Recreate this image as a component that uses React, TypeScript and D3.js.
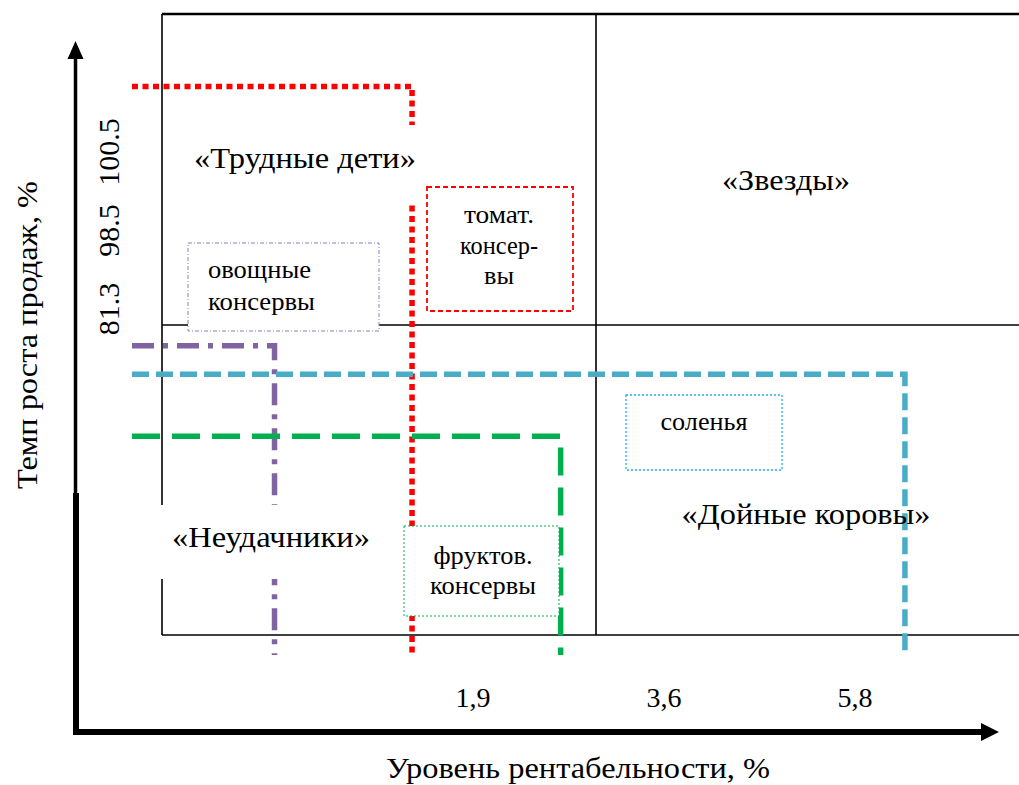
import React, { useEffect, useRef } from "react";
import * as d3 from "d3";

// продукты: уровень рентабельности и темп роста (в условных единицах схемы)
const products = ["томат. консервы", "овощные консервы", "соленья", "фруктов. консервы"];
const profitability = [3.63, 2.14, 8.97, 5.24];
const growth = [9.33, 5.6, 5.19, 4.3];
const lineColors = ["#ff0000", "#8064a2", "#4bacc6", "#00b050"];
const lineDashes = ["6 4.5", "22 9 5 9", "17 7", "28 12"];

const boxLines = [["томат.", "консер-", "вы"], ["овощные", "консервы"], ["соленья"], ["фруктов.", "консервы"]];
const quadrants = ["«Трудные дети»", "«Звезды»", "«Неудачники»", "«Дойные коровы»"];
const xTickLabels = ["1,9", "3,6", "5,8"];
const yTickLabels = ["81.3", "98.5", "100.5"];

const FONT = "'Liberation Serif', 'Times New Roman', serif";

const App: React.FC = () => {
    const svgRef = useRef<SVGSVGElement | null>(null);

    useEffect(() => {
        const svg = d3.select(svgRef.current);
        svg.selectAll("*").remove();

        const width = 1019;
        const height = 785;
        svg.append("rect").attr("width", width).attr("height", height).attr("fill", "#fff");

        const x = d3.scaleLinear().domain([0, 10]).range([77, 1000]);
        const y = d3.scaleLinear().domain([0, 10]).range([735, 40]);

        // текст, растянутый до ширины как в оригинале
        const label = (g: any, t: string, tx: number, ty: number, size: number, len: number, anchor = "middle") =>
            g.append("text").attr("x", tx).attr("y", ty).attr("text-anchor", anchor)
                .attr("font-family", FONT).attr("font-size", size).attr("fill", "#000")
                .attr("textLength", len).attr("lengthAdjust", "spacingAndGlyphs").text(t);

        // сетка матрицы
        const gx = [162, 596, 1019];
        const gy = [14, 325, 635];
        const grid = svg.append("g").attr("stroke", "#000").attr("stroke-width", 1.6);
        gy.forEach((v, i) => {
            grid.append("line").attr("x1", gx[0]).attr("x2", gx[2]).attr("y1", v).attr("y2", v)
                .attr("stroke-width", i === 0 ? 2.4 : 1.6);
        });
        gx.slice(0, 2).forEach((v) => {
            grid.append("line").attr("x1", v).attr("x2", v).attr("y1", gy[0]).attr("y2", gy[2]);
        });

        // линии положения продуктов
        const lineStart = 132;
        const lineEnd = 655;
        svg.append("g")
            .selectAll("path")
            .data(products)
            .enter()
            .append("path")
            .attr("d", (d, i) => `M${lineStart},${y(growth[i])}H${x(profitability[i])}V${lineEnd}`)
            .attr("fill", "none")
            .attr("stroke", (d, i) => lineColors[i])
            .attr("stroke-width", 5.5)
            .attr("stroke-dasharray", (d, i) => lineDashes[i]);

        // белые подложки под названиями квадрантов
        svg.append("rect").attr("x", 176).attr("y", 125).attr("width", 246).attr("height", 80).attr("fill", "#fff");
        svg.append("rect").attr("x", 150).attr("y", 505).attr("width", 240).attr("height", 74).attr("fill", "#fff");

        // подписи продуктов в рамках
        const boxes = [
            { x: 427, y: 187, w: 146, h: 124, stroke: "#ff0000", sw: 1.8, dash: "5 3", anchor: "middle", tx: 499, ty: [223, 254, 284], len: [70, 78, 30] },
            { x: 188, y: 243, w: 191, h: 88, stroke: "#8f7ab8", sw: 1, dash: "4 2 1 2", anchor: "start", tx: 208, ty: [278, 310], len: [103, 107] },
            { x: 626, y: 395, w: 156, h: 75, stroke: "#1fb1ea", sw: 1.3, dash: "2 2", anchor: "middle", tx: 704, ty: [430], len: [87] },
            { x: 404, y: 526, w: 155, h: 90, stroke: "#00b050", sw: 1, dash: "2 2", anchor: "middle", tx: 483, ty: [564, 594], len: [99, 106] },
        ];
        boxes.forEach((b, i) => {
            svg.append("rect").attr("x", b.x).attr("y", b.y).attr("width", b.w).attr("height", b.h)
                .attr("fill", "#fff").attr("stroke", b.stroke).attr("stroke-width", b.sw)
                .attr("stroke-dasharray", b.dash);
            boxLines[i].forEach((t, j) => label(svg, t, b.tx, b.ty[j], 25, b.len[j], b.anchor));
        });

        // названия квадрантов
        const qPos = [[305, 168, 222], [786, 190, 128], [271, 547, 198], [806, 524, 249]];
        quadrants.forEach((q, i) => label(svg, q, qPos[i][0], qPos[i][1], 29, qPos[i][2]));

        // оси
        svg.append("line").attr("x1", 75.5).attr("x2", 75.5).attr("y1", 735).attr("y2", 55)
            .attr("stroke", "#000").attr("stroke-width", 3.5);
        svg.append("line").attr("x1", 76).attr("x2", 76).attr("y1", 493).attr("y2", 735)
            .attr("stroke", "#000").attr("stroke-width", 6);
        svg.append("path").attr("d", "M75.5,41L67.5,59L83.5,59Z").attr("fill", "#000");
        svg.append("line").attr("x1", 73).attr("x2", 985).attr("y1", 732).attr("y2", 732)
            .attr("stroke", "#000").attr("stroke-width", 6);
        svg.append("path").attr("d", "M999,732L981,723L981,741Z").attr("fill", "#000");

        // подписи делений
        const xt = d3.scalePoint<string>().domain(xTickLabels).range([473, 855]);
        svg.append("g").selectAll("text").data(xTickLabels).enter().append("text")
            .attr("x", (d) => xt(d) as number).attr("y", 707).attr("text-anchor", "middle")
            .attr("font-family", FONT).attr("font-size", 28).text((d) => d);

        const yt = d3.scalePoint<string>().domain(yTickLabels).range([309, 152]);
        svg.append("g").selectAll("text").data(yTickLabels).enter().append("text")
            .attr("transform", (d) => `translate(119,${yt(d)}) rotate(-90)`).attr("text-anchor", "middle")
            .attr("font-family", FONT).attr("font-size", 30).text((d) => d);

        // названия осей
        label(svg, "Уровень рентабельности, %", 578, 778, 29, 384);
        label(svg.append("g").attr("transform", "translate(37,335) rotate(-90)"), "Темп роста продаж, %", 0, 0, 29, 308);
    }, []);

    return (
        <svg ref={svgRef} width={1019} height={785}
            style={{ position: "absolute", left: 0, top: 0, display: "block" }} />
    );
};

export default App;
